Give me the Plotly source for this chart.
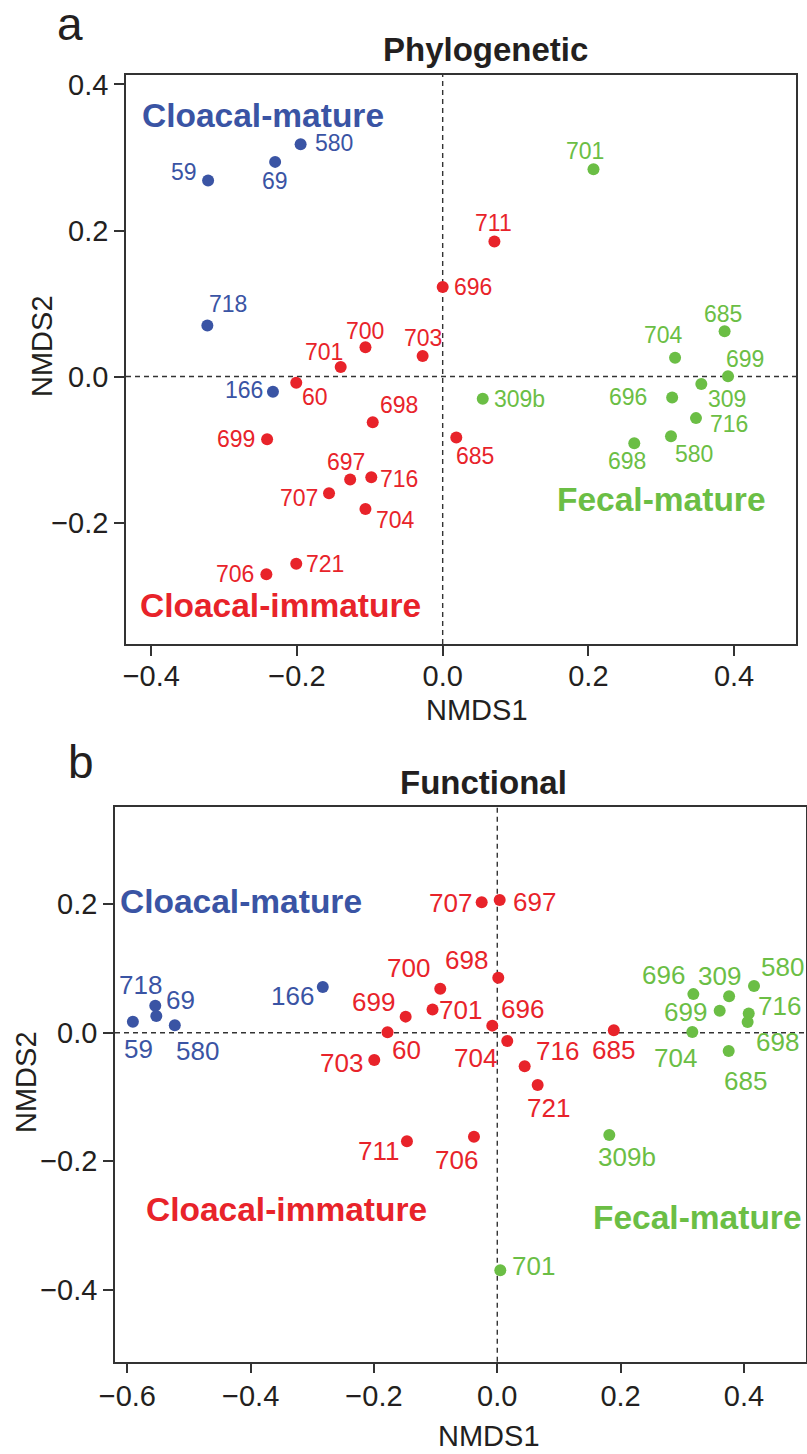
import plotly.graph_objects as go

# ---------------- data: panel a (Phylogenetic) ----------------
a_blue_lab = ["580", "69", "59", "718", "166"]
a_blue_x = [-0.195, -0.230, -0.322, -0.323, -0.233]
a_blue_y = [0.318, 0.294, 0.2685, 0.070, -0.021]

a_red_lab = ["60", "701", "700", "703", "698", "699", "697", "716", "707", "704",
             "721", "706", "696", "711", "685"]
a_red_x = [-0.201, -0.140, -0.106, -0.0275, -0.096, -0.241, -0.127, -0.098, -0.156, -0.106,
           -0.201, -0.242, 0.0, 0.071, 0.0187]
a_red_y = [-0.0085, 0.013, 0.040, 0.028, -0.0625, -0.086, -0.141, -0.138, -0.160, -0.1815,
           -0.2566, -0.271, 0.1225, 0.1848, -0.0835]

a_green_lab = ["701", "685", "704", "699", "309", "696", "716", "580", "698", "309b"]
a_green_x = [0.207, 0.387, 0.319, 0.3917, 0.355, 0.315, 0.3477, 0.3134, 0.263, 0.055]
a_green_y = [0.284, 0.062, 0.0258, 0.0003, -0.0103, -0.0286, -0.057, -0.0817, -0.0913, -0.0305]

# ---------------- data: panel b (Functional) ----------------
b_blue_lab = ["59", "718", "69", "580", "166"]
b_blue_x = [-0.591, -0.5547, -0.553, -0.523, -0.283]
b_blue_y = [0.017, 0.042, 0.026, 0.0115, 0.071]

b_red_lab = ["703", "60", "699", "700", "701", "707", "697", "698", "696", "704",
             "716", "721", "685", "711", "706"]
b_red_x = [-0.1995, -0.178, -0.1486, -0.0925, -0.105, -0.0253, 0.0039, 0.0016, -0.0081, 0.0162,
           0.0444, 0.0655, 0.189, -0.1465, -0.0378]
b_red_y = [-0.0425, 0.0006, 0.025, 0.0685, 0.036, 0.203, 0.2064, 0.0855, 0.011, -0.0129,
           -0.0523, -0.0813, 0.0037, -0.169, -0.1617]

b_green_lab = ["309b", "701", "696", "309", "580", "699", "716", "698", "704", "685"]
b_green_x = [0.1817, 0.0049, 0.318, 0.376, 0.4164, 0.3607, 0.4078, 0.406, 0.3163, 0.3753]
b_green_y = [-0.159, -0.3695, 0.060, 0.0566, 0.0726, 0.0342, 0.030, 0.0166, 0.001, -0.0285]

a_xticks = [-0.4, -0.2, 0.0, 0.2, 0.4]
a_yticks = [-0.2, 0.0, 0.2, 0.4]
b_xticks = [-0.6, -0.4, -0.2, 0.0, 0.2, 0.4]
b_yticks = [-0.4, -0.2, 0.0, 0.2]

# ---------------- label offsets (pixels, style) ----------------
a_blue_off = [(33, 1), (0, -19), (-24, 8), (21, 21), (-29, 2)]
a_red_off = [(19, -14), (-17, 15), (0, 16), (0, 18), (26, 17), (-31, 0), (-4, 17), (28, -2),
             (-30, -5), (30, -11), (29, 0), (-31, 0), (30, 0), (-1, 19), (19, -19)]
a_green_off = [(-8, 18), (-2, 17), (-12, 23), (17, 17), (26, -15), (-44, 0), (33, -6),
               (23, -18), (-7, -18), (37, 0)]
b_blue_off = [(6, -27), (-15, 21), (24, 16), (23, -26), (-30, -9)]
b_red_off = [(-33, -3), (19, -18), (-32, 15), (-32, 21), (28, 0), (-31, -1), (35, -2), (-32, 18),
             (30, 17), (-32, -17), (33, 15), (11, -23), (0, -20), (-28, -10), (-17, -23)]
b_green_off = [(18, -22), (33, 4), (-30, 19), (-10, 20), (28, 19), (-34, -1), (31, 7), (30, -20),
               (-17, -26), (17, -30)]

BLUE = "#3A54A4"
RED = "#E8232A"
GREEN = "#6BBE45"
INK = "#231F20"
FONT = "Liberation Sans, Arial, Helvetica, sans-serif"

W, H = 807, 1454


def px(x):
    return x / W


def py(y):
    return 1 - y / H


def fmt(v):
    s = f"{abs(v):.1f}"
    return ("\u2212" + s) if v < 0 else s


fig = go.Figure()
annotations = []

groups = [
    ("x", "y", a_blue_x, a_blue_y, a_blue_lab, a_blue_off, BLUE, 23),
    ("x", "y", a_red_x, a_red_y, a_red_lab, a_red_off, RED, 23),
    ("x", "y", a_green_x, a_green_y, a_green_lab, a_green_off, GREEN, 23),
    ("x2", "y2", b_blue_x, b_blue_y, b_blue_lab, b_blue_off, BLUE, 26),
    ("x2", "y2", b_red_x, b_red_y, b_red_lab, b_red_off, RED, 26),
    ("x2", "y2", b_green_x, b_green_y, b_green_lab, b_green_off, GREEN, 26),
]

for xr, yr, xs, ys, labs, offs, col, fs in groups:
    fig.add_trace(go.Scatter(
        x=xs, y=ys, mode="markers", xaxis=xr, yaxis=yr,
        marker=dict(size=12, color=col, line=dict(width=0)),
        text=labs, hoverinfo="text", showlegend=False, cliponaxis=False,
    ))
    for x, y, t, (dx, dy) in zip(xs, ys, labs, offs):
        annotations.append(dict(
            x=x, y=y, xref=xr, yref=yr, text=t, showarrow=False,
            xanchor="center", yanchor="middle", xshift=dx, yshift=dy,
            font=dict(family=FONT, size=fs, color=col),
        ))

# group labels
grp = [
    ("x", "y", -0.246, 0.358, "Cloacal-mature", BLUE),
    ("x", "y", 0.301, -0.169, "Fecal-mature", GREEN),
    ("x", "y", -0.222, -0.313, "Cloacal-immature", RED),
    ("x2", "y2", -0.416, 0.2037, "Cloacal-mature", BLUE),
    ("x2", "y2", -0.342, -0.2757, "Cloacal-immature", RED),
    ("x2", "y2", 0.3255, -0.288, "Fecal-mature", GREEN),
]
for xr, yr, x, y, t, col in grp:
    annotations.append(dict(
        x=x, y=y, xref=xr, yref=yr, text="<b>" + t + "</b>", showarrow=False,
        xanchor="center", yanchor="middle",
        font=dict(family=FONT, size=33.5, color=col),
    ))

# titles, panel letters, axis titles
paper_txt = [
    (485, 50, "<b>Phylogenetic</b>", 33, 0),
    (483, 782, "<b>Functional</b>", 33, 0),
    (70, 24, "a", 46, 0),
    (81, 762, "b", 46, 0),
    (477, 710, "NMDS1", 29, 0),
    (489, 1436, "NMDS1", 29, 0),
    (42, 346, "NMDS2", 29, -90),
    (26, 1082, "NMDS2", 29, -90),
]
for x, y, t, fs, ang in paper_txt:
    annotations.append(dict(
        x=px(x), y=py(y), xref="paper", yref="paper", text=t, showarrow=False,
        xanchor="center", yanchor="middle", textangle=ang,
        font=dict(family=FONT, size=fs, color=INK),
    ))

axis_common = dict(
    showline=True, mirror=True, linecolor="#333333", linewidth=1.5,
    ticks="outside", ticklen=10, tickwidth=1.5, tickcolor="#333333",
    showgrid=False, zeroline=False, automargin=False,
    tickfont=dict(family=FONT, size=29, color=INK),
)

fig.update_layout(
    width=W, height=H,
    margin=dict(l=0, r=0, t=0, b=0),
    paper_bgcolor="white", plot_bgcolor="white",
    showlegend=False,
    xaxis=dict(domain=[px(126), px(796)], range=[-0.4347, 0.485],
               tickvals=a_xticks, ticktext=[fmt(v) for v in a_xticks],
               anchor="y", ticklabelstandoff=-5, **axis_common),
    yaxis=dict(domain=[py(644), py(75)], range=[-0.3664, 0.413],
               tickvals=a_yticks, ticktext=[fmt(v) for v in a_yticks],
               anchor="x", **axis_common),
    xaxis2=dict(domain=[px(115), px(806)], range=[-0.620, 0.5007],
                tickvals=b_xticks, ticktext=[fmt(v) for v in b_xticks],
                anchor="y2", ticklabelstandoff=-2, **axis_common),
    yaxis2=dict(domain=[py(1361.7), py(806.7)], range=[-0.5117, 0.3515],
                tickvals=b_yticks, ticktext=[fmt(v) for v in b_yticks],
                anchor="x2", **axis_common),
    annotations=annotations,
)

dash = dict(color="#333333", width=1.4, dash="5px,4px")
for xr, yr in [("x", "y"), ("x2", "y2")]:
    fig.add_shape(type="line", xref=xr, yref=yr + " domain", x0=0, x1=0, y0=0, y1=1,
                  line=dash, layer="below")
    fig.add_shape(type="line", xref=xr + " domain", yref=yr, x0=0, x1=1, y0=0, y1=0,
                  line=dash, layer="below")

fig.write_html(
    "out.html",
    config={"displayModeBar": False},
    post_script="document.body.style.margin='0';document.body.style.overflow='hidden';",
)
